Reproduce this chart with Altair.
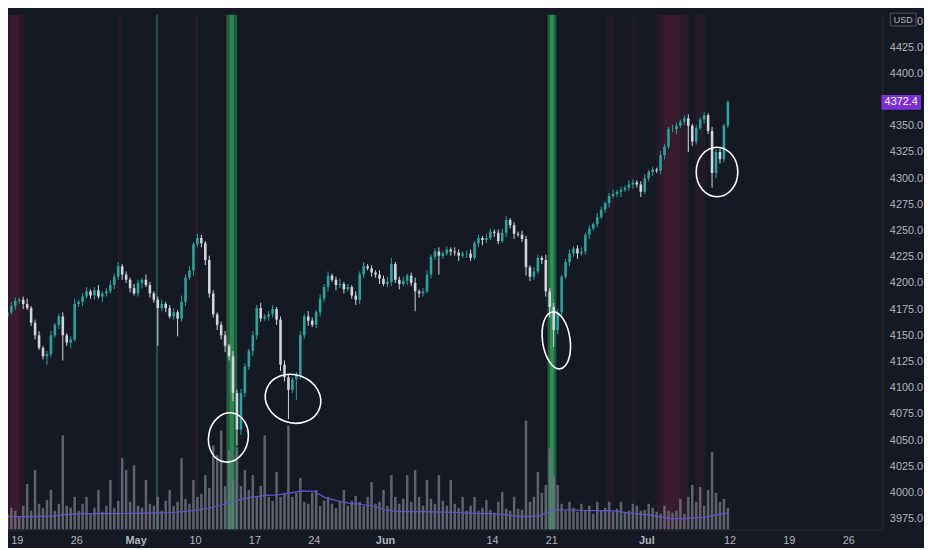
import altair as alt
import pandas as pd

# ---------------- data ----------------
# candle closes, 3 bars per trading day, first bar at day -0.8 (day 0 = Mon Apr 19)
closes = [
    4172, 4178, 4183, 4184, 4180, 4176, 4162, 4150, 4138, 4130,
    4132, 4150, 4160, 4168, 4150, 4143, 4146, 4180, 4182, 4187,
    4192, 4188, 4193, 4187, 4190, 4192, 4198, 4206, 4216, 4208,
    4203, 4195, 4190, 4200, 4203, 4198, 4190, 4184, 4176, 4180,
    4176, 4168, 4172, 4166, 4182, 4205, 4212, 4237, 4243, 4238,
    4222, 4190, 4170, 4160, 4150, 4140, 4130, 4095, 4060, 4095,
    4120, 4135, 4150, 4176, 4166, 4168, 4170, 4175, 4165, 4122,
    4110, 4098, 4108, 4112, 4150, 4168, 4164, 4160, 4172, 4185,
    4196, 4207, 4203, 4198, 4199, 4194, 4196, 4188, 4184, 4208,
    4216, 4214, 4210, 4208, 4204, 4199, 4201, 4218, 4203, 4199,
    4202, 4207, 4200, 4192, 4190, 4192, 4208, 4225, 4230, 4226,
    4228, 4232, 4230, 4229, 4226, 4228, 4228, 4224, 4238, 4243,
    4241, 4243, 4249, 4248, 4240, 4248, 4260, 4255, 4247, 4246,
    4242, 4215, 4206, 4211, 4224, 4222, 4192, 4177, 4155, 4172,
    4206, 4220, 4228, 4233, 4228, 4230, 4246, 4252, 4256, 4263,
    4270, 4276, 4283, 4285, 4287, 4289, 4291, 4294, 4296, 4294,
    4287, 4300, 4306, 4308, 4307, 4322, 4330, 4347, 4347, 4350,
    4354, 4357, 4350, 4335, 4348, 4356, 4360, 4345, 4305, 4325,
    4318, 4350, 4372.4,
]
first_open = 4168

wick_up = [
    2, 4, 3, 2, 3, 5, 2, 3, 4, 2,
    3, 4, 2, 3, 4, 2, 3, 5, 2, 3,
    4, 2, 3, 5, 2, 3, 4, 3, 4, 2,
    3, 2, 4, 3, 2, 5, 3, 2, 3, 4,
    2, 3, 4, 2, 6, 3, 4, 2, 4, 3,
    2, 4, 3, 2, 3, 4, 2, 5, 3, 4,
    3, 2, 4, 3, 5, 2, 3, 4, 2, 3,
    4, 3, 2, 3, 4, 2, 5, 3, 2, 4,
    3, 4, 2, 3, 5, 2, 3, 2, 4, 3,
    4, 2, 3, 2, 4, 3, 5, 6, 2, 3,
    4, 2, 3, 5, 2, 3, 4, 2, 3, 4,
    2, 3, 2, 4, 3, 2, 3, 4, 2, 3,
    2, 4, 3, 2, 3, 4, 4, 2, 3, 2,
    4, 3, 2, 4, 3, 2, 5, 3, 4, 3,
    2, 3, 4, 2, 3, 4, 2, 3, 2, 4,
    3, 2, 3, 4, 2, 3, 2, 4, 3, 2,
    3, 4, 2, 3, 2, 4, 3, 2, 4, 3,
    2, 3, 4, 2, 3, 2, 3, 2, 4, 3,
    3, 2, 2,
]
wick_dn = [
    3, 2, 4, 3, 5, 2, 3, 4, 2, 3,
    8, 3, 2, 4, 24, 3, 5, 2, 3, 4,
    2, 3, 4, 2, 5, 3, 2, 4, 3, 5,
    3, 4, 2, 3, 5, 2, 4, 3, 36, 3,
    4, 2, 3, 17, 3, 4, 2, 5, 3, 4,
    5, 4, 3, 5, 4, 6, 4, 8, 15, 5,
    4, 3, 5, 4, 3, 2, 4, 3, 5, 6,
    4, 28, 3, 20, 4, 3, 5, 2, 3, 4,
    3, 4, 2, 5, 3, 4, 2, 3, 5, 4,
    3, 2, 4, 3, 5, 2, 3, 4, 3, 5,
    2, 4, 3, 19, 4, 3, 2, 4, 3, 18,
    3, 2, 4, 3, 5, 2, 4, 3, 2, 4,
    5, 3, 2, 4, 3, 2, 4, 3, 5, 2,
    3, 8, 4, 3, 2, 4, 5, 10, 16, 4,
    3, 2, 4, 3, 5, 2, 3, 4, 2, 3,
    2, 3, 4, 2, 3, 5, 2, 3, 4, 3,
    5, 2, 3, 4, 2, 3, 4, 2, 3, 5,
    2, 3, 25, 4, 3, 2, 4, 3, 14, 5,
    4, 3, 2,
]

# volume in thousands
volumes = [
    160, 220, 190, 130, 240, 460, 190, 600, 260, 220,
    300, 400, 190, 260, 950, 240, 220, 330, 190, 260,
    330, 160, 220, 400, 180, 240, 500, 220, 290, 720,
    600, 280, 650, 240, 220, 500, 260, 240, 330, 190,
    290, 400, 240, 280, 720, 310, 260, 500, 330, 360,
    550, 420, 850, 750, 1000, 440, 800, 500, 830, 440,
    600, 400, 550, 330, 440, 950, 330, 290, 580, 330,
    370, 1050, 330, 370, 520, 280, 260, 370, 400, 240,
    290, 330, 260, 220, 280, 400, 240, 290, 340, 280,
    240, 330, 480, 260, 280, 400, 240, 550, 330, 260,
    310, 550, 280, 600, 330, 240, 500, 310, 260, 550,
    290, 240, 500, 260, 220, 330, 190, 240, 330, 190,
    220, 300, 200, 170, 280, 380, 210, 190, 330, 210,
    200, 1100, 280, 330, 580, 370, 450, 820, 550, 450,
    260, 190, 280, 220, 180, 260, 190, 240, 160, 280,
    190, 220, 280, 180, 210, 280, 170, 190, 260, 240,
    190, 200, 260, 220, 180, 160, 240, 190, 170, 190,
    310, 160, 330, 450, 280, 430, 240, 400, 780, 370,
    280, 310, 220,
]

# volume moving average, one value per trading day (day -1 .. 59) plus last bar
ma_days = list(range(-1, 60)) + [59.87]
ma_vals = [
    130, 130, 130, 132, 135, 150, 158, 160, 160, 160, 162,
    163, 165, 168, 172, 180, 195, 210, 240, 275, 310,
    330, 345, 350, 370, 390, 385, 320, 290, 265, 255,
    235, 200, 180, 180, 180, 178, 175, 172, 165, 160,
    160, 150, 135, 130, 140, 190, 200, 195, 192, 190,
    190, 175, 160, 150, 130, 112, 110, 118, 125, 150,
    165,
]

# background signal bands (trading-day units)
band_start = [-0.99, -0.58, 0.25, 8.49, 11.71, 15.0, 17.64, 17.89, 18.30,
              44.68, 44.89, 45.22, 49.63, 51.77, 53.83, 54.41, 55.90, 57.13]
band_end = [-0.58, 0.25, 0.66, 8.82, 11.87, 15.25, 17.89, 18.30, 18.55,
            44.89, 45.22, 45.42, 50.29, 52.18, 54.41, 55.90, 56.55, 57.95]
band_color = ["#2c1a28", "#3a1a2c", "#261a27", "#21192a", "#24574a", "#2a1a2a",
              "#225f40", "#2f8552", "#225f40",
              "#225f40", "#2f8f55", "#225f40",
              "#231a29", "#1f1a28", "#271a2a", "#3a1a2d", "#2a1a2b", "#241a29"]

# x-axis ticks (trading-day index) and labels
tick_pos = [0, 5, 10, 15, 20, 25, 31, 40, 45, 53, 60, 65, 70]
tick_lab = ["19", "26", "May", "10", "17", "24", "Jun", "14", "21", "Jul", "12", "19", "26"]
month_pos = [10, 31, 53]

price_ticks = [3975, 4000, 4025, 4050, 4075, 4100, 4125, 4150, 4175, 4200,
               4225, 4250, 4275, 4300, 4325, 4350, 4400, 4425, 4450]

# hand-drawn circle annotations: centre (day, price)
circ_t = [17.81, 23.25, 45.42, 58.95]
circ_p = [4052.5, 4089.4, 4145.2, 4305.9]

last_price = 4372.4

# ---------------- styling ----------------
W, H = 883, 520
BG = "#151924"
UP = "#26a69a"
DN = "#d1d4dc"
TXT = "#b2b5be"
LINE = "#2a2e39"
FONT = "Liberation Sans"

xs = alt.Scale(domain=[-0.33, 72.46], nice=False, zero=False)
ys = alt.Scale(domain=[3964.6, 4456.2], nice=False, zero=False)
vs = alt.Scale(domain=[0, 5200], nice=False, zero=False)

lab_expr = "[" + ",".join("'%s'" % s for s in tick_lab) + "][indexof([" + \
    ",".join(str(v) for v in tick_pos) + "], datum.value)]"
bold_test = " || ".join("datum.value == %d" % v for v in month_pos)

x_axis = alt.Axis(values=tick_pos, labelExpr=lab_expr, title=None, grid=False,
                  ticks=False, domainColor=LINE, labelColor=TXT, labelFontSize=11,
                  labelFont=FONT, labelPadding=5, labelFlush=False, labelOverlap=False,
                  labelFontWeight={"condition": {"test": bold_test, "value": "bold"},
                                   "value": "normal"})
y_axis = alt.Axis(orient="right", values=price_ticks, format=".1f", title=None,
                  grid=False, ticks=False, domainColor=LINE, labelColor=TXT,
                  labelFontSize=11, labelFont=FONT, labelPadding=7, labelOverlap=False)


def X(field="t"):
    return alt.X(f"{field}:Q", scale=xs, axis=x_axis)


# ---------------- tables ----------------
n = len(closes)
opens = [first_open] + closes[:-1]
rows = []
for i in range(n):
    o, c = opens[i], closes[i]
    rows.append(dict(t=-0.8 + i / 3.0, open=o, close=c,
                     high=max(o, c) + wick_up[i], low=min(o, c) - wick_dn[i],
                     vol=volumes[i], dir="up" if c >= o else "down"))
df = pd.DataFrame(rows)
df_ma = pd.DataFrame({"t": ma_days, "ma": ma_vals})
df_b = pd.DataFrame({"s": band_start, "e": band_end, "c": band_color})

color_enc = alt.Color("dir:N", scale=alt.Scale(domain=["up", "down"], range=[UP, DN]), legend=None)

# ---------------- layers ----------------
bands = alt.Chart(df_b).mark_rect(clip=True).encode(
    x=X("s"), x2="e:Q", y=alt.value(0), y2=alt.value(H),
    color=alt.Color("c:N", scale=None),
)

vol_bars = alt.Chart(df).mark_bar(size=2.5, color="#71747f", opacity=0.8, clip=True).encode(
    x=X(), y=alt.Y("vol:Q", scale=vs, axis=None),
)
ma_line = alt.Chart(df_ma).mark_line(color="#5d55c8", strokeWidth=1.2, clip=True).encode(
    x=X(), y=alt.Y("ma:Q", scale=vs, axis=None),
)
vol = alt.layer(vol_bars, ma_line)

wicks = alt.Chart(df).mark_rule(strokeWidth=1, clip=True).encode(
    x=X(), y=alt.Y("low:Q", scale=ys, axis=y_axis), y2="high:Q", color=color_enc,
)
bodies = alt.Chart(df).mark_bar(size=2.6, clip=True).encode(
    x=X(), y=alt.Y("open:Q", scale=ys, axis=y_axis), y2="close:Q", color=color_enc,
)

ellipse_shapes = [
    ("M -0.8,0 A 0.8,1 0 1,1 0.8,0 A 0.8,1 0 1,1 -0.8,0 Z", 2500, 10),
    ("M -1,0 A 1,0.85 0 1,1 1,0 A 1,0.85 0 1,1 -1,0 Z", 3249, 20),
    ("M -0.48,0 A 0.48,1 0 1,1 0.48,0 A 0.48,1 0 1,1 -0.48,0 Z", 3364, 352),
    ("M -0.84,0 A 0.84,1 0 1,1 0.84,0 A 0.84,1 0 1,1 -0.84,0 Z", 2500, 0),
]
circles = []
for k, (path, sz, ang) in enumerate(ellipse_shapes):
    d = pd.DataFrame({"t": [circ_t[k]], "p": [circ_p[k]]})
    circles.append(
        alt.Chart(d).mark_point(shape=path, size=sz, angle=ang, filled=False,
                                stroke="white", strokeWidth=1.6, opacity=1).encode(
            x=X(), y=alt.Y("p:Q", scale=ys, axis=y_axis))
    )

df_last = pd.DataFrame({"p": [last_price], "lab": ["%.1f" % last_price]})
tag_box = alt.Chart(df_last).mark_point(
    shape="M -1,-0.34 L 1,-0.34 L 1,0.34 L -1,0.34 Z", size=1444, filled=True,
    fill="#7b2fd6", stroke="#7b2fd6", opacity=1).encode(
    x=alt.value(W + 19), y=alt.Y("p:Q", scale=ys, axis=y_axis))
tag_txt = alt.Chart(df_last).mark_text(color="white", fontSize=11, font=FONT,
                                       align="center", baseline="middle").encode(
    x=alt.value(W + 19), y=alt.Y("p:Q", scale=ys, axis=y_axis), text="lab:N")

df_cur = pd.DataFrame({"lab": ["USD"]})
usd_box = alt.Chart(df_cur).mark_point(
    shape="M -1,-0.5 L 1,-0.5 L 1,0.5 L -1,0.5 Z", size=676, filled=True,
    fill=BG, stroke="#50535e", strokeWidth=1, opacity=1).encode(
    x=alt.value(W + 21), y=alt.value(5))
usd_txt = alt.Chart(df_cur).mark_text(color=TXT, fontSize=9, font=FONT,
                                      align="center", baseline="middle").encode(
    x=alt.value(W + 21), y=alt.value(5), text="lab:N")

price = alt.layer(wicks, bodies, *circles, tag_box, tag_txt, usd_box, usd_txt)

chart = alt.layer(bands, vol, price).resolve_scale(y="independent").properties(
    width=W, height=H, background=BG, padding=0,
).configure_view(stroke=None)

chart.save("out.html", embed_options={"renderer": "svg", "actions": False})
